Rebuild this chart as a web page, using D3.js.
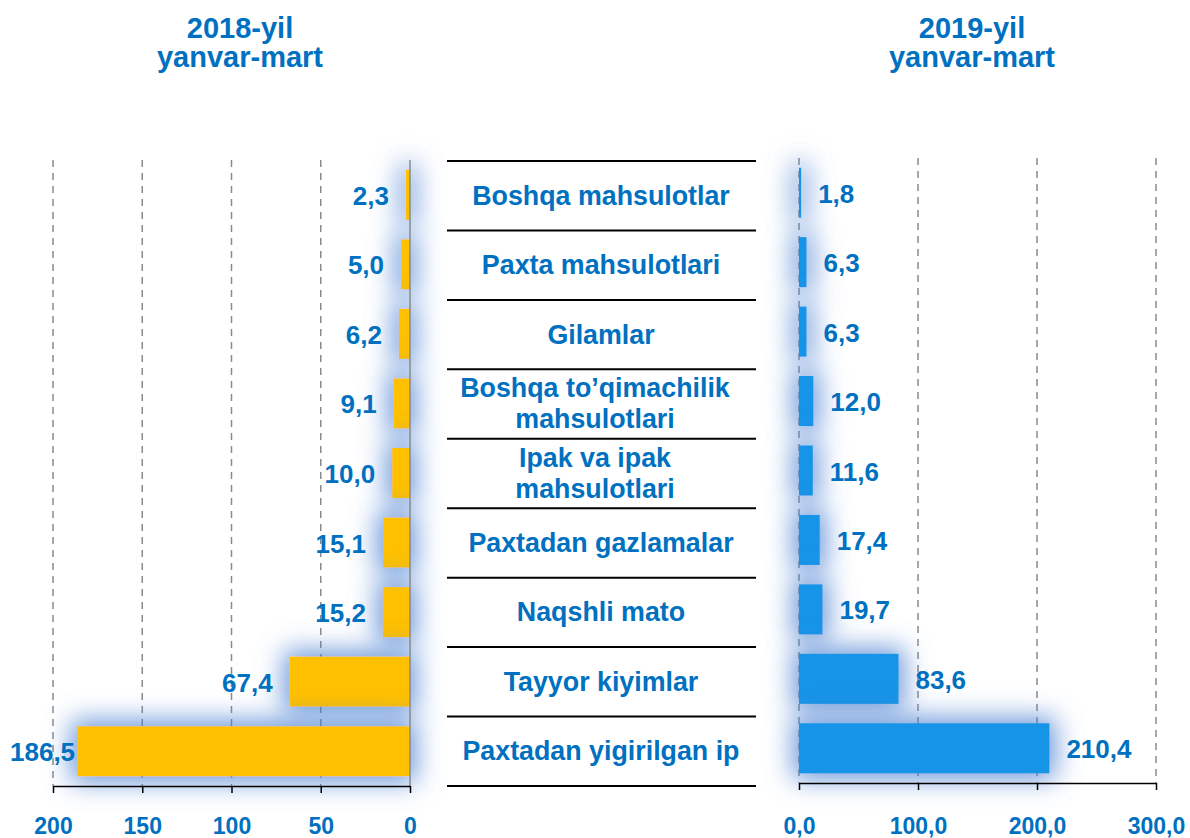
<!DOCTYPE html>
<html>
<head>
<meta charset="utf-8">
<script src="https://cdn.jsdelivr.net/npm/d3@7"></script>
<style>
  body { margin: 0; background: #fff; }
  svg text { font-family: "Liberation Sans", Arial, sans-serif; font-weight: bold; fill: #0070C0; }
</style>
</head>
<body>
<svg width="1190" height="838"></svg>
<script>
const categories = [
    "Boshqa mahsulotlar",
    "Paxta mahsulotlari",
    "Gilamlar",
    "Boshqa to’qimachilik\nmahsulotlari",
    "Ipak va ipak\nmahsulotlari",
    "Paxtadan gazlamalar",
    "Naqshli mato",
    "Tayyor kiyimlar",
    "Paxtadan yigirilgan ip"
];
const values2018 = [2.3, 5.0, 6.2, 9.1, 10.0, 15.1, 15.2, 67.4, 186.5];
const values2019 = [1.8, 6.3, 6.3, 12.0, 11.6, 17.4, 19.7, 83.6, 210.4];
const ticks2018 = [0, 50, 100, 150, 200];
const ticks2019 = [0, 100, 200, 300];
const titles = [["2018-yil", "yanvar-mart"], ["2019-yil", "yanvar-mart"]];

const svg = d3.select("svg");
const comma = f => v => f(v).replace(".", ",");
const fmt1 = comma(d3.format(".1f"));

// soft blue glow behind the bars
const filter = svg.append("defs").append("filter")
    .attr("id", "glow")
    .attr("filterUnits", "userSpaceOnUse")
    .attr("x", 0).attr("y", 0).attr("width", 1190).attr("height", 838);
filter.append("feMorphology").attr("in", "SourceAlpha").attr("operator", "dilate").attr("radius", 6).attr("result", "d");
filter.append("feGaussianBlur").attr("in", "d").attr("stdDeviation", 13).attr("result", "b");
filter.append("feFlood").attr("flood-color", "#4a80d2").attr("flood-opacity", 0.8);
filter.append("feComposite").attr("in2", "b").attr("operator", "in").attr("result", "g");
const merge = filter.append("feMerge");
merge.append("feMergeNode").attr("in", "g");
merge.append("feMergeNode").attr("in", "SourceGraphic");

const yL = d3.scaleBand().domain(d3.range(categories.length)).range([160, 786]).paddingInner(0.28).paddingOuter(0.14);
const yR = d3.scaleBand().domain(d3.range(categories.length)).range([158, 783]).paddingInner(0.28).paddingOuter(0.14);
const yMid = d3.scaleBand().domain(d3.range(categories.length)).range([161, 786]);

const xL = d3.scaleLinear().domain([0, 200]).range([410, 53]);
const xR = d3.scaleLinear().domain([0, 300]).range([799, 1156]);

// ---- left chart (2018) ----
svg.append("g").selectAll("line")
    .data(ticks2018.filter(t => t > 0))
    .enter().append("line")
    .attr("x1", d => xL(d)).attr("x2", d => xL(d))
    .attr("y1", 160).attr("y2", 786)
    .attr("stroke", "#8a8a8a").attr("stroke-width", 1.5)
    .attr("stroke-dasharray", "7,6");

svg.append("g").selectAll("rect")
    .data(values2018)
    .enter().append("rect")
    .attr("x", d => xL(d))
    .attr("y", (d, i) => yL(i))
    .attr("width", d => xL(0) - xL(d))
    .attr("height", yL.bandwidth())
    .attr("fill", "#FFC000")
    .attr("filter", "url(#glow)");

svg.append("line")
    .attr("x1", xL(0)).attr("x2", xL(0))
    .attr("y1", 160).attr("y2", 786)
    .attr("stroke", "#8a8a8a").attr("stroke-width", 1.5);

const axisL = svg.append("g")
    .attr("transform", "translate(0,786)")
    .call(d3.axisBottom(xL).tickValues(ticks2018).tickSize(7).tickSizeOuter(0).tickFormat(d3.format("d")));

svg.append("g").selectAll("text")
    .data(values2018)
    .enter().append("text")
    .attr("text-anchor", "end")
    .attr("y", (d, i) => yL(i) + yL.bandwidth() / 2 + 10)
    .style("font-size", "26px")
    .text(d => fmt1(d))
    .attr("x", function(d) {
        // keep the label inside the chart when the bar is long
        return Math.max(xL(d) - 17, 10 + this.getComputedTextLength());
    });

// ---- right chart (2019) ----
svg.append("g").selectAll("line")
    .data(ticks2019)
    .enter().append("line")
    .attr("x1", d => xR(d)).attr("x2", d => xR(d))
    .attr("y1", 158).attr("y2", 783)
    .attr("stroke", "#8a8a8a").attr("stroke-width", 1.5)
    .attr("stroke-dasharray", "7,6");

svg.append("g").selectAll("rect")
    .data(values2019)
    .enter().append("rect")
    .attr("x", xR(0))
    .attr("y", (d, i) => yR(i))
    .attr("width", d => xR(d) - xR(0))
    .attr("height", yR.bandwidth())
    .attr("fill", "#1294E8")
    .attr("filter", "url(#glow)");

const axisR = svg.append("g")
    .attr("transform", "translate(0,783)")
    .call(d3.axisBottom(xR).tickValues(ticks2019).tickSize(7).tickSizeOuter(0).tickFormat(fmt1));

svg.append("g").selectAll("text")
    .data(values2019)
    .enter().append("text")
    .attr("x", d => xR(d) + 17)
    .attr("y", (d, i) => yR(i) + yR.bandwidth() / 2 + 10)
    .style("font-size", "26px")
    .text(d => fmt1(d));

[axisL, axisR].forEach(ax => {
    ax.select(".domain").attr("stroke", "#000").attr("stroke-width", 1.5);
    ax.selectAll(".tick line").attr("stroke", "#000").attr("stroke-width", 1.5);
    ax.selectAll(".tick text")
        .attr("y", 48).attr("dy", 0)
        .attr("fill", "#0070C0")
        .style("font-size", "23px");
});
axisR.selectAll(".tick text").attr("y", 51);

// ---- middle category table ----
svg.append("g").selectAll("line")
    .data(d3.range(categories.length + 1))
    .enter().append("line")
    .attr("x1", 447).attr("x2", 756)
    .attr("y1", i => 161 + i * yMid.step())
    .attr("y2", i => 161 + i * yMid.step())
    .attr("stroke", "#000").attr("stroke-width", 2);

const cat = svg.append("g").selectAll("text")
    .data(categories)
    .enter().append("text")
    .attr("text-anchor", "middle")
    .attr("x", 601)
    .attr("y", (d, i) => yMid(i) + yMid.bandwidth() / 2 + 9)
    .style("font-size", "26.8px");

cat.each(function(d) {
    const lines = d.split("\n");
    const t = d3.select(this);
    if (lines.length > 1) t.attr("x", 595);
    lines.forEach((s, j) => {
        t.append("tspan")
            .attr("x", t.attr("x"))
            .attr("dy", j === 0 ? (lines.length > 1 ? -16 : 0) : 31)
            .text(s);
    });
});

// ---- titles ----
[[240, titles[0]], [972, titles[1]]].forEach(([x, lines]) => {
    svg.append("text")
        .attr("text-anchor", "middle")
        .attr("x", x)
        .attr("y", 38)
        .style("font-size", "29px")
        .selectAll("tspan")
        .data(lines)
        .enter().append("tspan")
        .attr("x", x)
        .attr("dy", (d, i) => i === 0 ? 0 : 29)
        .text(d => d);
});
</script>
</body>
</html>
